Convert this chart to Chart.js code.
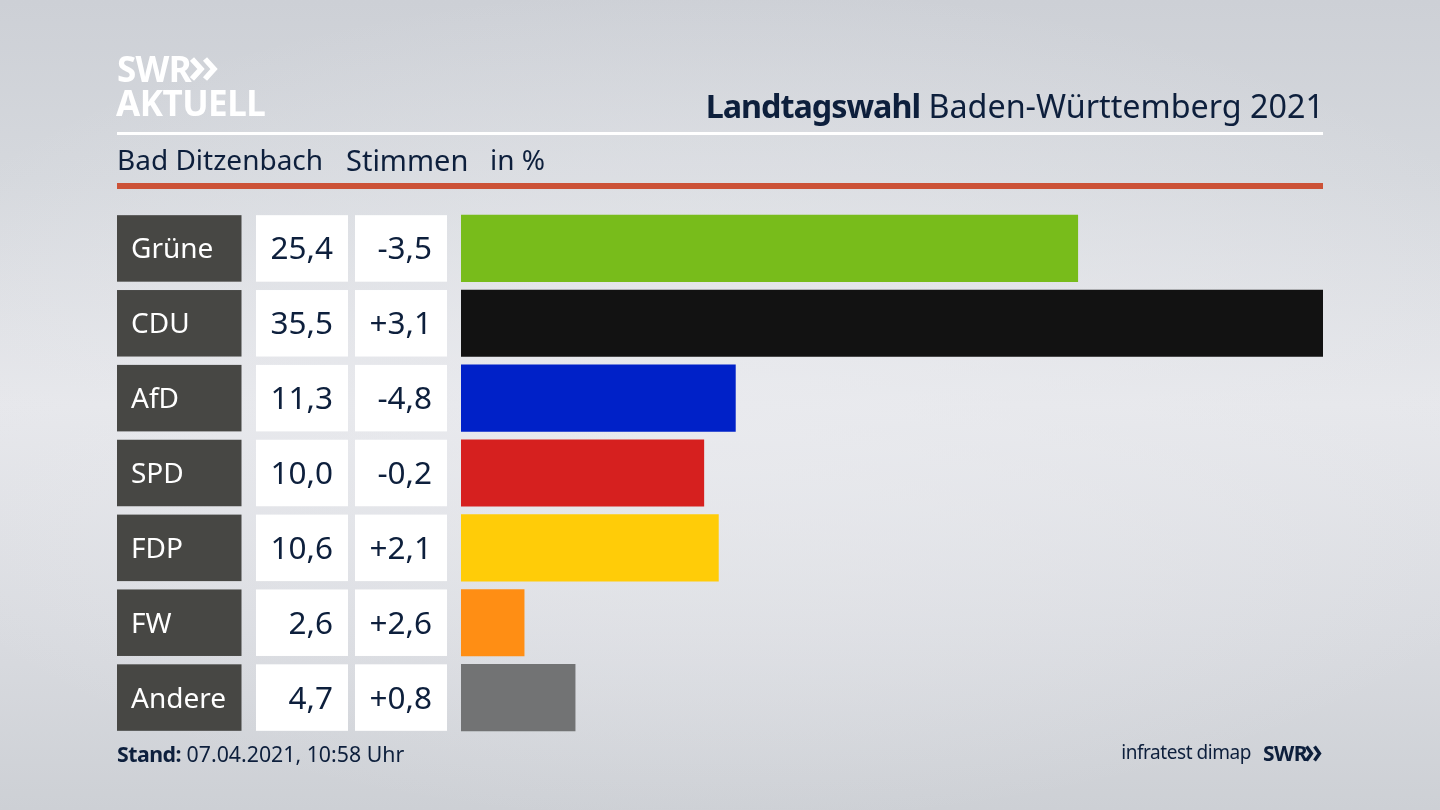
<!DOCTYPE html>
<html lang="de">
<head>
<meta charset="utf-8">
<title>Landtagswahl Baden-Württemberg 2021</title>
<script src="https://cdn.jsdelivr.net/npm/chart.js@4"></script>
<style>
  html, body { margin: 0; padding: 0; }
  body {
    width: 1440px; height: 810px; overflow: hidden; position: relative;
    font-family: "Noto Sans", sans-serif; color: #0d1f3c;
    background:
      radial-gradient(ellipse 900px 420px at 50% 50%, rgba(234,235,239,.75), rgba(234,235,239,0)),
      linear-gradient(180deg, #cdd0d6 0%, #d5d8dd 22%, #e6e7eb 50%, #d9dbe0 78%, #cdd0d5 100%);
  }
  canvas { position: absolute; left: 0; top: 0; }
  .t { position: absolute; white-space: nowrap; line-height: 1; }
  .rule { position: absolute; left: 117px; width: 1206px; }
  svg { position: absolute; }
</style>
</head>
<body>
<canvas id="myChart" width="1440" height="810"></canvas>

<div class="t" style="left:117px;top:51px;font-size:35px;font-weight:700;color:#fff;letter-spacing:-.7px">SWR</div>
<svg style="left:190px;top:57px" width="30" height="24"><path d="M2 2 L11 12 L2 22 M15 2 L24 12 L15 22" fill="none" stroke="#fff" stroke-width="5.5"/></svg>
<div class="t" style="left:116px;top:85px;font-size:35px;font-weight:700;color:#fff;letter-spacing:-.5px">AKTUELL</div>

<div class="t" style="right:116px;top:89px;font-size:32.3px"><b style="letter-spacing:-1px">Landtagswahl</b> Baden-Württemberg 2021</div>
<div class="rule" style="top:132px;height:3px;background:#fff"></div>
<div class="t" style="left:117px;top:145px;font-size:28px">Bad Ditzenbach</div>
<div class="t" style="left:346px;top:145px;font-size:29px">Stimmen</div>
<div class="t" style="left:490px;top:145px;font-size:28px">in %</div>
<div class="rule" style="top:183px;height:6px;background:#cc5237"></div>

<div class="t" style="left:117px;top:743px;font-size:21.3px"><b style="letter-spacing:-.5px">Stand:</b> 07.04.2021, 10:58 Uhr</div>
<div class="t" style="right:189px;top:743px;font-size:19px;letter-spacing:-.45px">infratest dimap</div>
<div class="t" style="left:1263px;top:743px;font-size:21px;font-weight:700;letter-spacing:-.6px">SWR</div>
<svg style="left:1305px;top:745px" width="19" height="17"><path d="M1.5 1.5 L6.5 8.5 L1.5 15.5 M9.5 1.5 L14.5 8.5 L9.5 15.5" fill="none" stroke="#0d1f3c" stroke-width="3.4"/></svg>

<script>
const parties = ["Grüne", "CDU", "AfD", "SPD", "FDP", "FW", "Andere"];
const shares = [25.4, 35.5, 11.3, 10.0, 10.6, 2.6, 4.7];
const changes = ["-3,5", "+3,1", "-4,8", "-0,2", "+2,1", "+2,6", "+0,8"];
const colors = ["#78bc1b", "#121212", "#0021c8", "#d6201f", "#ffcc08", "#ff8e14", "#727374"];

const fontName = '"Noto Sans", sans-serif';

// left part of each row: party name and the two number boxes
const rowCells = {
  id: "rowCells",
  beforeDatasetsDraw(chart) {
    const ctx = chart.ctx;
    const y = chart.scales.y;
    const h = 66.5;
    ctx.save();
    ctx.textBaseline = "middle";
    parties.forEach((party, i) => {
      const mid = y.getPixelForValue(i);
      const top = mid - h / 2;

      ctx.fillStyle = "#474744";
      ctx.fillRect(117, top, 124.5, h);
      ctx.fillStyle = "#ffffff";
      ctx.fillRect(256, top, 92, h);
      ctx.fillRect(355, top, 92, h);

      ctx.font = "28px " + fontName;
      ctx.textAlign = "left";
      ctx.fillText(party, 131, mid + 2);

      ctx.font = "31.5px " + fontName;
      ctx.textAlign = "right";
      ctx.fillStyle = "#0d1f3c";
      ctx.fillText(shares[i].toFixed(1).replace(".", ","), 333, mid + 2);
      ctx.fillText(changes[i], 432, mid + 2);
    });
    ctx.restore();
  },
};

new Chart(document.getElementById("myChart"), {
  type: "bar",
  data: {
    labels: parties,
    datasets: [
      {
        data: shares,
        backgroundColor: colors,
        barThickness: 66.5,
        borderWidth: 0,
      },
    ],
  },
  options: {
    indexAxis: "y",
    responsive: false,
    animation: false,
    devicePixelRatio: 1,
    layout: { padding: { left: 461, right: 117, top: 211, bottom: 75 } },
    plugins: { legend: { display: false }, tooltip: { enabled: false } },
    scales: {
      x: { display: false, min: 0, max: 35.5 },
      y: { display: false },
    },
  },
  plugins: [rowCells],
});
</script>
</body>
</html>
